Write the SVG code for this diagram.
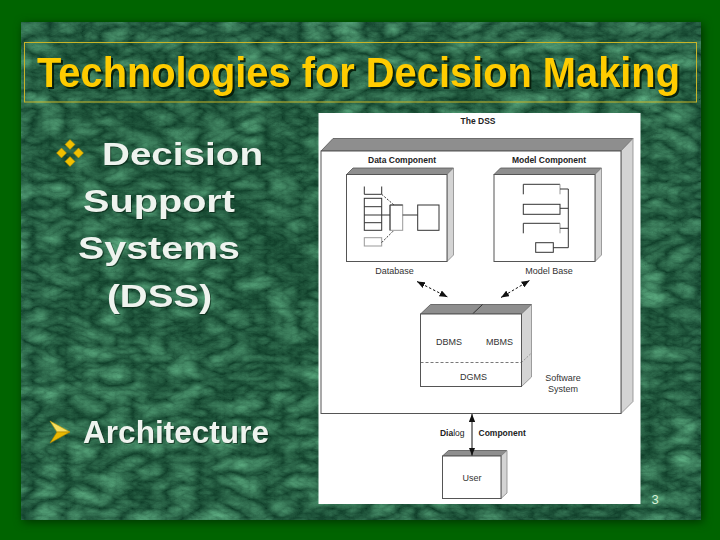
<svg xmlns="http://www.w3.org/2000/svg" width="720" height="540" viewBox="0 0 720 540">
<defs>
<style>
.slide{font-family:"Liberation Sans",Arial,sans-serif;font-weight:bold}
.title{font-size:42px;fill:#ffcc00}
.body{font-size:31px;fill:#eef3ee}
.d{font-family:"Liberation Sans",Arial,sans-serif;fill:#222}
.db{font-size:8.5px;font-weight:bold;text-anchor:middle}
.dn{font-size:9px;text-anchor:middle;fill:#333}
.front{fill:#fff;stroke:#555;stroke-width:1}
.top{fill:#8e8e8e;stroke:#555;stroke-width:0.8}
.side{fill:#d4d4d4;stroke:#888;stroke-width:0.8}
.ln{fill:none;stroke:#333;stroke-width:1}
.lg{fill:none;stroke:#999;stroke-width:1}
.conn{fill:none;stroke:#111;stroke-width:1}
</style>
<filter id="marble" x="0" y="0" width="100%" height="100%" color-interpolation-filters="sRGB">
<feTurbulence type="turbulence" baseFrequency="0.03 0.055" numOctaves="5" seed="7" result="t"/>
<feColorMatrix in="t" type="matrix" values="0.35 0 0 0 0.05  0.5 0 0 0 0.23  0.4 0 0 0 0.15  0 0 0 0 1" result="c"/>
<feComposite in="c" in2="SourceGraphic" operator="in"/>
</filter>
<filter id="shadow" x="-10%" y="-10%" width="120%" height="120%" color-interpolation-filters="sRGB">
<feGaussianBlur in="SourceAlpha" stdDeviation="5"/>
<feOffset dx="2" dy="2" result="b"/>
<feFlood flood-color="#002a00" flood-opacity="0.85"/>
<feComposite in2="b" operator="in"/>
<feMerge><feMergeNode/><feMergeNode in="SourceGraphic"/></feMerge>
</filter>
<filter id="tshadow" x="-5%" y="-20%" width="110%" height="140%" color-interpolation-filters="sRGB">
<feDropShadow dx="2" dy="2" stdDeviation="0.6" flood-color="#041a08" flood-opacity="0.9"/>
</filter>
<filter id="bshadow" x="-5%" y="-20%" width="110%" height="140%" color-interpolation-filters="sRGB">
<feDropShadow dx="1" dy="1" stdDeviation="0.5" flood-color="#062010" flood-opacity="0.6"/>
</filter>
<marker id="ah" viewBox="0 0 10 8" refX="10" refY="4" markerWidth="8" markerHeight="6.5" markerUnits="userSpaceOnUse" orient="auto-start-reverse">
<path d="M0,0 L10,4 L0,8 Z" fill="#111"/>
</marker>
</defs>

<!-- slide background -->
<rect x="0" y="0" width="720" height="540" fill="#006400"/>
<g filter="url(#shadow)">
<rect x="21" y="22" width="680" height="498" fill="#245e3a"/>
</g>
<rect x="21" y="22" width="680" height="498" fill="#245e3a" filter="url(#marble)"/>

<!-- title -->
<rect x="24.5" y="42.5" width="672" height="59.5" fill="none" stroke="#c8b428" stroke-width="1"/>
<text class="slide title" x="37" y="87" textLength="643" lengthAdjust="spacingAndGlyphs" filter="url(#tshadow)">Technologies for Decision Making</text>

<!-- bullet 1 -->
<g fill="#f0c000" stroke="#b08800" stroke-width="0.5">
<path d="M70,139.5 L75,144.5 L70,149.5 L65,144.5 Z"/>
<path d="M61.5,148 L66.5,153 L61.5,158 L56.5,153 Z"/>
<path d="M78.5,148 L83.5,153 L78.5,158 L73.5,153 Z"/>
<path d="M70,156.5 L75,161.5 L70,166.5 L65,161.5 Z"/>
</g>
<g class="slide" filter="url(#bshadow)">
<text class="body" x="102" y="165" textLength="161" lengthAdjust="spacingAndGlyphs">Decision</text>
<text class="body" x="83" y="212" textLength="152" lengthAdjust="spacingAndGlyphs">Support</text>
<text class="body" x="78" y="259" textLength="162" lengthAdjust="spacingAndGlyphs">Systems</text>
<text class="body" x="107" y="307" textLength="105" lengthAdjust="spacingAndGlyphs">(DSS)</text>
<text class="body" x="83" y="443" textLength="186" lengthAdjust="spacingAndGlyphs">Architecture</text>
</g>

<!-- bullet 2 arrow -->
<path d="M50,421 L70,432 L57,432 Z" fill="#f8e060" stroke="#c8a000" stroke-width="0.6"/>
<path d="M57,432 L70,432 L50,443 Z" fill="#e8b800" stroke="#a88000" stroke-width="0.6"/>

<!-- page number -->
<text x="655" y="504" text-anchor="middle" font-family="'Liberation Sans',Arial,sans-serif" font-size="13" fill="#d8f0d8">3</text>

<!-- diagram picture -->
<rect x="318.5" y="113" width="322" height="391" fill="#ffffff"/>
<text class="d db" x="478" y="124">The DSS</text>

<g id="dss-outer">
<polygon class="top" points="321,151 333,138.5 633,138.5 621,151"/>
<polygon class="side" points="621,151 633,138.5 633,401.5 621,413.5"/>
<rect class="front" x="321" y="151" width="300" height="262.5"/>
</g>

<g id="data-component">
<text class="d db" x="402" y="163">Data Component</text>
<polygon class="top" points="346.5,174.5 353,168 453.5,168 447,174.5"/>
<polygon class="side" points="447,174.5 453.5,168 453.5,255 447,261.5"/>
<rect class="front" x="346.5" y="174.5" width="100.5" height="87"/>
<path class="ln" d="M364.3,186.5 V194.3 H381.7 V186.5"/>
<rect class="ln" x="364.3" y="198.3" width="17.4" height="32"/>
<path class="ln" d="M364.3,206.7 H381.7 M364.3,215 H381.7 M364.3,222.7 H381.7"/>
<rect class="lg" x="364.3" y="237.7" width="17.4" height="8.3"/>
<rect fill="none" stroke="#999" stroke-width="1" x="390" y="205" width="12.7" height="25.3"/>
<path class="ln" d="M390,230.3 V205 H402.7"/>
<rect class="ln" x="417.7" y="205" width="21.3" height="25.3"/>
<path class="ln" d="M381.7,215 H390 M402.7,215 H417.7"/>
<path class="ln" stroke-dasharray="2,1.5" stroke-width="0.8" d="M381.7,194.3 L394,205 M381.7,242.5 L394,230.3"/>
<text class="d dn" x="394.5" y="273.5">Database</text>
</g>

<g id="model-component">
<text class="d db" x="549" y="163">Model Component</text>
<polygon class="top" points="494,174.5 500.5,168 601.5,168 595,174.5"/>
<polygon class="side" points="595,174.5 601.5,168 601.5,255 595,261.5"/>
<rect class="front" x="494" y="174.5" width="101" height="87"/>
<path class="ln" d="M523.3,194.3 V184.3 H560"/>
<path class="lg" d="M560,184.3 V194.3"/>
<rect class="ln" x="523.3" y="204.3" width="36.7" height="10"/>
<path class="ln" d="M523.3,233.3 V223.3 H560"/>
<path class="lg" d="M560,223.3 V233.3"/>
<rect class="ln" x="535.7" y="242.7" width="17.6" height="9.6"/>
<path class="ln" d="M560,189 H568.3 M560,208.3 H568.3 M560,228.3 H568.3 M553.3,247.7 H568.3 M568.3,189 V247.7"/>
<text class="d dn" x="549" y="273.5">Model Base</text>
</g>

<g id="software-system">
<polygon class="top" points="420.5,314 430.5,304.5 531.5,304.5 521.5,314"/>
<path class="ln" stroke="#555" d="M472.5,314 L482.5,304.5"/>
<polygon class="side" points="521.5,314 531.5,304.5 531.5,377 521.5,386.5"/>
<path fill="none" stroke="#888" stroke-width="0.8" stroke-dasharray="2,1.5" d="M521.5,362.5 L531.5,353"/>
<rect class="front" x="420.5" y="314" width="101" height="72.5"/>
<path fill="none" stroke="#555" stroke-width="0.8" stroke-dasharray="3,2" d="M420.5,362.5 H521.5"/>
<text class="d dn" x="449" y="344.5">DBMS</text>
<text class="d dn" x="499.5" y="344.5">MBMS</text>
<text class="d dn" x="473.5" y="380">DGMS</text>
<text class="d dn" x="563" y="381">Software</text>
<text class="d dn" x="563" y="391.5">System</text>
</g>

<g id="user">
<polygon class="top" points="442.5,456 448.5,450.5 507,450.5 501,456"/>
<polygon class="side" points="501,456 507,450.5 507,493 501,498.5"/>
<rect class="front" x="442.5" y="456" width="58.5" height="42.5"/>
<text class="d dn" x="472" y="481">User</text>
</g>

<g id="connectors">
<line class="conn" stroke-dasharray="2.5,2" x1="417" y1="281.5" x2="447.5" y2="297" marker-start="url(#ah)" marker-end="url(#ah)"/>
<line class="conn" stroke-dasharray="2.5,2" x1="529.5" y1="280.5" x2="501" y2="297.5" marker-start="url(#ah)" marker-end="url(#ah)"/>
<line class="conn" x1="472" y1="414" x2="472" y2="455.5" marker-start="url(#ah)" marker-end="url(#ah)"/>
<text class="d" font-size="8.5" x="464.5" y="436" text-anchor="end"><tspan font-weight="bold">Dia</tspan>log</text>
<text class="d" font-size="8.5" font-weight="bold" x="478.5" y="436">Component</text>
</g>
</svg>
